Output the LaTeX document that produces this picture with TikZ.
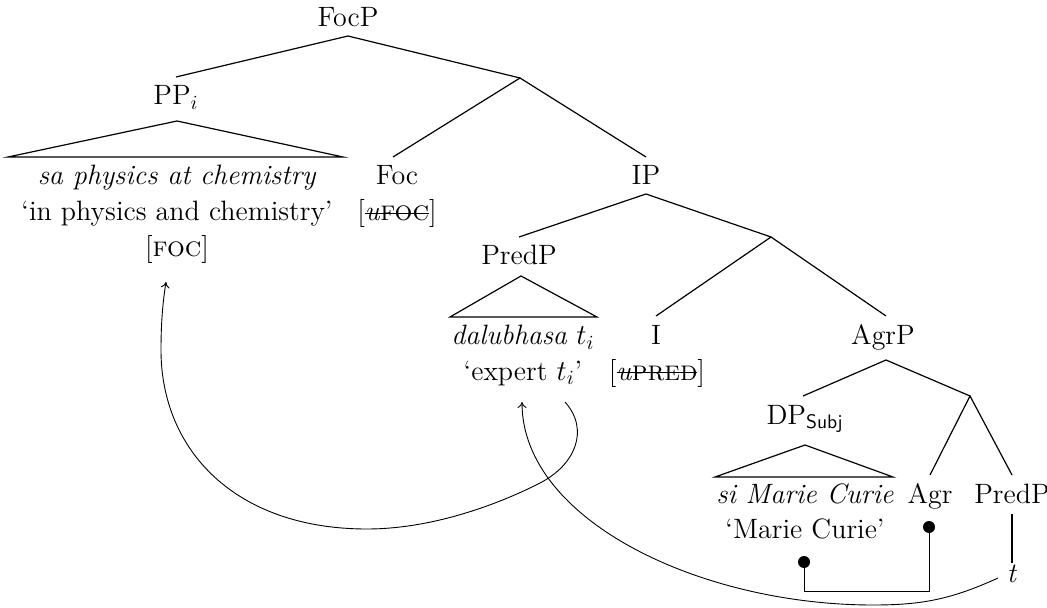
\documentclass[tikz,border=0pt]{standalone}
\usetikzlibrary{arrows.meta}
\newcommand\mystrike[1]{\setbox0\hbox{#1}\rlap{\rule[0.24em]{\wd0}{0.45pt}}\box0}
\tikzset{
  lbl/.style={anchor=base, inner sep=0pt, font=\fontsize{14}{16}\selectfont},
  branch/.style={line width=0.6pt},
  move/.style={line width=0.45pt, -{To[length=3pt,width=4.5pt]}},
  agree/.style={line width=0.5pt},
  dot/.style={fill=black}
}
\begin{document}
\begin{tikzpicture}[x=0.5pt,y=-0.5pt]
\useasboundingbox (0,0) rectangle (1047,608);
% labels
\node[lbl] (FocP) at (348,27) {FocP};
\node[lbl] (PP) at (176,105) {PP$_i$};
\node[lbl] (PPit) at (177,185) {\textit{sa physics at chemistry}};
\node[lbl] (PPgl) at (177,221) {`in physics and chemistry'};
\node[lbl] (PPft) at (177,257) {[\textsc{foc}]};
\node[lbl] (Foc) at (397,185) {Foc};
\node[lbl] (Focft) at (397,221) {[\mystrike{\textit{u}\textsc{foc}}]};
\node[lbl] (IP) at (646,185) {IP};
\node[lbl] (PredP) at (519,265) {PredP};
\node[lbl] (Predit) at (523,345) {\textit{dalubhasa} $t_i$};
\node[lbl] (Predgl) at (523,380) {`expert $t_i$'};
\node[lbl] (I) at (656,345) {I};
\node[lbl] (Ift) at (657,380) {[\mystrike{\textit{u}\textsc{pred}}]};
\node[lbl] (AgrP) at (883,345) {AgrP};
\node[lbl] (DP) at (805,424) {DP\textsubscript{\textsf{Subj}}};
\node[lbl] (DPit) at (805,503) {\textit{si Marie Curie}};
\node[lbl] (DPgl) at (805,538) {`Marie Curie'};
\node[lbl] (Agr) at (930,503) {Agr};
\node[lbl] (PredPb) at (1012,503) {PredP};
\node[lbl] (t) at (1012,582) {\textit{t}};
% branch points
\coordinate (FocPb) at (348,36);
\coordinate (PPt) at (176,77);
\coordinate (J1) at (520,78);
\coordinate (Foct) at (393,157);
\coordinate (IPt) at (646,157);
\coordinate (IPb) at (646,194);
\coordinate (PredPt) at (519,237);
\coordinate (J2) at (771,237);
\coordinate (It) at (656,316);
\coordinate (AgrPt) at (886,316);
\coordinate (AgrPb) at (886,360);
\coordinate (DPt) at (803,396);
\coordinate (J3) at (970,396);
\coordinate (Agrt) at (930,475);
\coordinate (PredPbt) at (1012,475);
\coordinate (PredPbb) at (1012,514);
\coordinate (tt) at (1012,563);
% triangles
\coordinate (PPa) at (177,121); \coordinate (PPl) at (8,157); \coordinate (PPr) at (343,157);
\coordinate (PrA) at (521,276); \coordinate (PrL) at (450,317); \coordinate (PrR) at (597,317);
\coordinate (DPa) at (805,445); \coordinate (DPl) at (715,477); \coordinate (DPr) at (893,477);
% tree lines
\draw[branch] (PPt) -- (FocPb) -- (J1);
\draw[branch] (Foct) -- (J1) -- (IPt);
\draw[branch] (PredPt) -- (IPb) -- (J2);
\draw[branch] (It) -- (J2) -- (AgrPt);
\draw[branch] (DPt) -- (AgrPb) -- (J3);
\draw[branch] (Agrt) -- (J3) -- (PredPbt);
\draw[branch] (PredPbb) -- (tt);
\draw[branch] (PPl) -- (PPa) -- (PPr) -- cycle;
\draw[branch] (PrL) -- (PrA) -- (PrR) -- cycle;
\draw[branch] (DPl) -- (DPa) -- (DPr) -- cycle;
% movement arrows
\coordinate (m1s) at (565,402);
\coordinate (m1e) at (166,282);
\draw[move] (m1s) .. controls (590,430) and (575,465) .. (540,483)
  .. controls (495,506) and (430,529) .. (367,529)
  .. controls (235,529) and (161,450) .. (161,350)
  .. controls (161,315) and (164,295) .. (m1e);
\coordinate (m2s) at (998,578);
\coordinate (m2e) at (522,402);
\draw[move] (m2s) .. controls (950,600) and (920,605) .. (873,605)
  .. controls (700,605) and (522,520) .. (m2e);
% agreement
\coordinate (agA) at (929,527);
\coordinate (agD) at (804,562);
\draw[agree] (agD) -- (804,591) -- (929,591) -- (agA);
\fill[dot] (agA) circle[radius=3pt];
\fill[dot] (agD) circle[radius=3pt];
\end{tikzpicture}
\end{document}
